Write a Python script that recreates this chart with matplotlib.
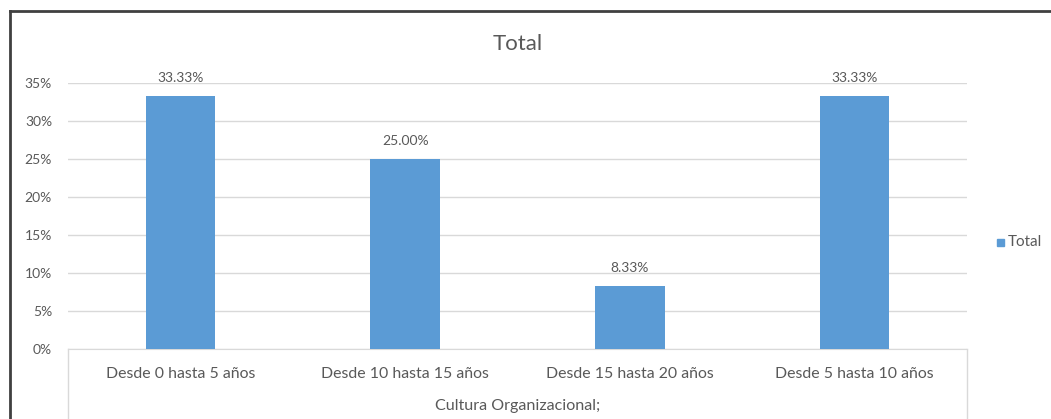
import matplotlib.pyplot as plt
from matplotlib.lines import Line2D
from matplotlib.patches import Rectangle

categories = ["Desde 0 hasta 5 años", "Desde 10 hasta 15 años",
              "Desde 15 hasta 20 años", "Desde 5 hasta 10 años"]
values = [33.33, 25.00, 8.33, 33.33]
yticks = [0, 5, 10, 15, 20, 25, 30, 35]
series_name = "Total"
axis_title = "Cultura Organizacional;"

W, H = 1051, 419
BAR = "#5B9BD5"
TXT = "#595959"
GRID = "#D9D9D9"

plt.rcParams["font.family"] = ["Lato", "DejaVu Sans"]

fig = plt.figure(figsize=(W / 100, H / 100), dpi=100)

left, right, bottom, top = 68, 967, 349, 83
ax = fig.add_axes([left / W, 1 - bottom / H, (right - left) / W, (bottom - top) / H])

x = list(range(len(categories)))
ax.bar(x, values, width=0.31, color=BAR, zorder=3)
for xi, v in zip(x, values):
    ax.annotate(f"{v:.2f}%", (xi, v), xytext=(0, 13), textcoords="offset points",
                ha="center", va="center", fontsize=10, color=TXT)

ax.set_xlim(-0.5, len(categories) - 0.5)
ax.set_ylim(0, 35)
ax.set_yticks(yticks)
ax.set_yticklabels([f"{t}%" for t in yticks])
ax.yaxis.grid(True, color=GRID, linewidth=1, zorder=0)
ax.set_xticks(x)
ax.set_xticklabels(categories)
ax.tick_params(axis="both", length=0, labelcolor=TXT)
ax.tick_params(axis="x", pad=13, labelsize=11.4)
ax.tick_params(axis="y", pad=11.5, labelsize=10)
for side in ["top", "right", "left"]:
    ax.spines[side].set_visible(False)
ax.spines["bottom"].set_color(GRID)

# category box edges below the axis
for px in (left, right):
    fig.add_artist(Line2D([px / W, px / W], [1 - bottom / H, 0], color=GRID, linewidth=1))

fig.text((left + right) / 2 / W, 1 - 406 / H, axis_title, ha="center", va="center",
         fontsize=11.6, color=TXT)
fig.text((left + right) / 2 / W, 1 - 44 / H, series_name, ha="center", va="center",
         fontsize=16, color=TXT)

# legend
fig.add_artist(Rectangle((997 / W, 1 - 246 / H), 7 / W, 7 / H, color=BAR,
                         transform=fig.transFigure))
fig.text(1008 / W, 1 - 242 / H, series_name, ha="left", va="center", fontsize=11, color=TXT)

# outer border (top and left)
fig.add_artist(Line2D([10 / W, 1], [1 - 11 / H, 1 - 11 / H], color="#404040", linewidth=2))
fig.add_artist(Line2D([10 / W, 10 / W], [1 - 11 / H, 0], color="#404040", linewidth=2))

fig.savefig("out.png", dpi=100)
